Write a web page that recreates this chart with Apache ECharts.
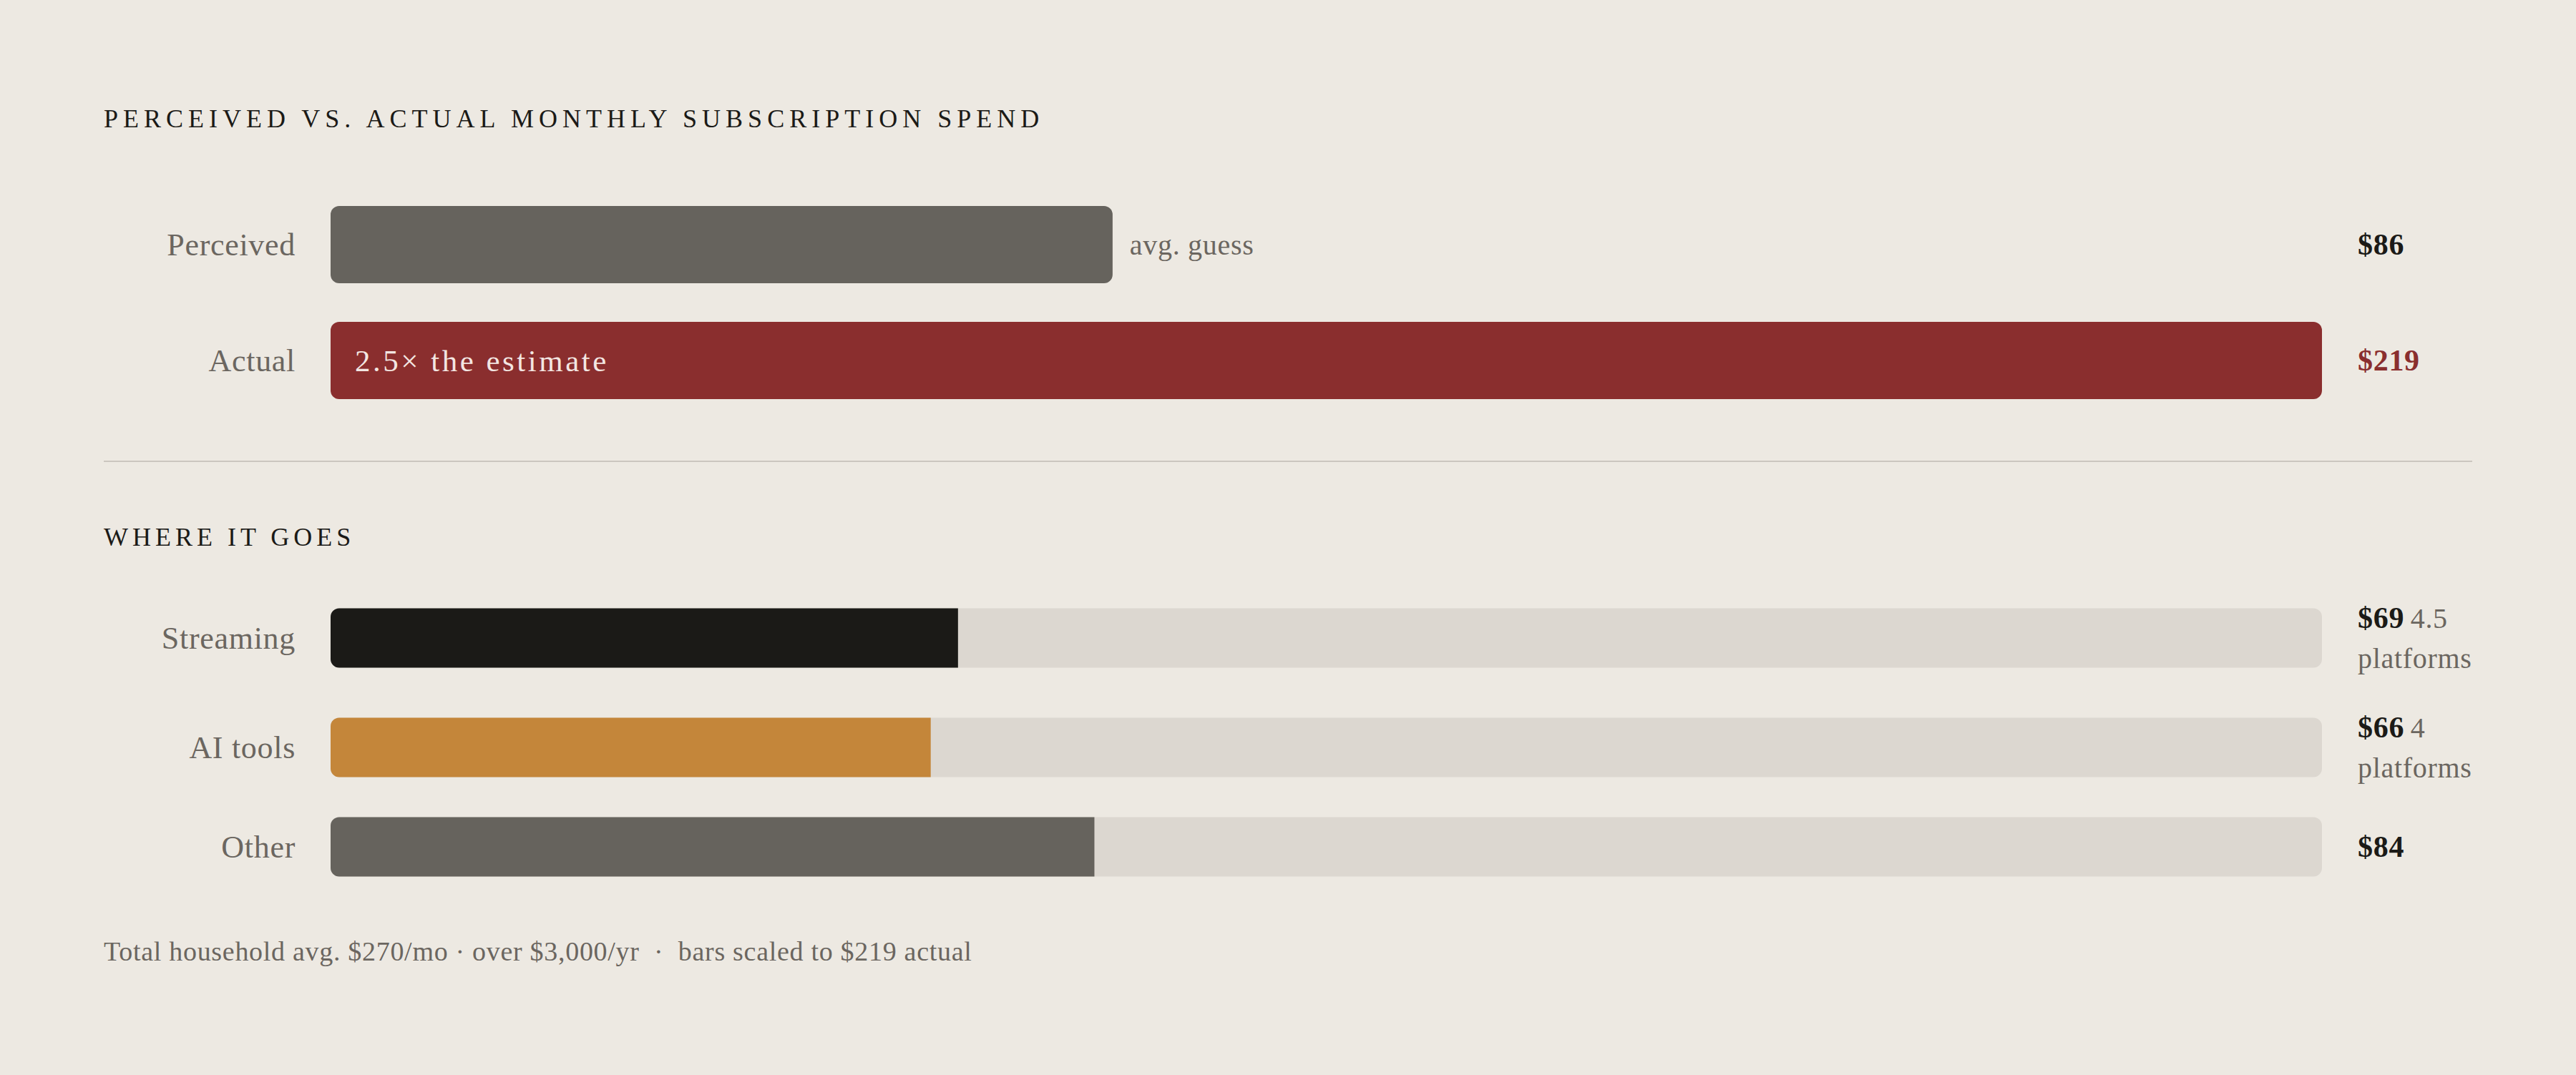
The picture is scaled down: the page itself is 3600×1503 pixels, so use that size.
<!DOCTYPE html>
<html>
<head>
<meta charset="utf-8">
<title>Perceived vs. actual monthly subscription spend</title>
<script src="https://cdn.jsdelivr.net/npm/echarts@6/dist/echarts.min.js"></script>
<style>
  html, body { margin: 0; padding: 0; background: #ede9e2; }
  #chart { width: 3600px; height: 1503px; }
  #chart text { letter-spacing: 0.7px; }
</style>
</head>
<body>
<div id="chart"></div>
<script>
// data
var scaleMax = 219;                       // bars scaled to the actual figure
var topCats = ['Perceived', 'Actual'];
var topValues = [86, 219];
var topNotes = ['avg. guess', '2.5\u00d7 the estimate'];
var breakCats = ['Streaming', 'AI tools', 'Other'];
var breakValues = [69, 66, 84];
var breakCounts = ['4.5', '4', ''];
var breakUnit = 'platforms';
var footNote = 'Total household avg. $270/mo \u00b7 over $3,000/yr  \u00b7  bars scaled to $219 actual';

// look
var FONT = "'Liberation Serif', 'DejaVu Serif', serif";
var INK = '#1b1a17', MUTED = '#6b6660', RED = '#8a2e2e';
var topColors = ['#66635d', RED];
var breakColors = ['#1b1a17', '#c4863a', '#66635d'];
var rowCenters = [892, 1045, 1184];
var PLOT_LEFT = 462, PLOT_RIGHT = 355;

var grids = [], xAxes = [], yAxes = [], series = [];

function leftAxis(gi, cats){
    return {
        gridIndex: gi, type: 'category', inverse: true, data: cats,
        axisLine: {show: false}, axisTick: {show: false}, splitLine: {show: false},
        axisLabel: {margin: 49, fontSize: 44, color: MUTED, fontFamily: FONT}
    };
}
function rightAxis(gi, cats, fmt){
    return {
        gridIndex: gi, type: 'category', inverse: true, position: 'right', data: cats,
        axisLine: {show: false}, axisTick: {show: false}, splitLine: {show: false},
        axisLabel: {
            margin: 50, formatter: fmt,
            rich: {
                v: {fontSize: 42, fontWeight: 'bold', color: INK, fontFamily: FONT, lineHeight: 56},
                r: {fontSize: 42, fontWeight: 'bold', color: RED, fontFamily: FONT, lineHeight: 56},
                n: {fontSize: 40, color: MUTED, fontFamily: FONT, lineHeight: 56}
            }
        }
    };
}
function valueAxis(gi){
    return {gridIndex: gi, type: 'value', min: 0, max: scaleMax, show: false};
}

// perceived vs actual
grids.push({left: PLOT_LEFT, right: PLOT_RIGHT, top: 261, height: 324});
xAxes.push(valueAxis(0));
yAxes.push(leftAxis(0, topCats));
yAxes.push(rightAxis(0, topCats, function(v, i){
    return '{' + (i == 1 ? 'r' : 'v') + '|$' + topValues[i] + '}';
}));
series.push({
    type: 'bar', xAxisIndex: 0, yAxisIndex: 0, barWidth: 108, silent: true,
    data: topValues.map(function(v, i){
        var lbl = i == 0
            ? {show: true, position: 'right', distance: 24, formatter: topNotes[i], fontSize: 40, color: MUTED, fontFamily: FONT}
            : {show: true, position: 'insideLeft', distance: 34, formatter: topNotes[i], fontSize: 43, color: '#f3e6e2', fontFamily: FONT};
        return {value: v, itemStyle: {color: topColors[i], borderRadius: 12}, label: lbl};
    })
});

// where it goes, one grid per row
breakCats.forEach(function(c, i){
    var gi = i + 1;
    grids.push({left: PLOT_LEFT, right: PLOT_RIGHT, top: rowCenters[i] - 50, height: 100});
    xAxes.push(valueAxis(gi));
    yAxes.push(leftAxis(gi, [c]));
    yAxes.push(rightAxis(gi, [c], function(){
        var s = '{v|$' + breakValues[i] + '}';
        if (breakCounts[i]) s += '{n| ' + breakCounts[i] + '}\n{n|' + breakUnit + '}';
        return s;
    }));
    series.push({
        type: 'bar', xAxisIndex: gi, yAxisIndex: yAxes.length - 2, barWidth: 83, silent: true,
        showBackground: true,
        backgroundStyle: {color: '#dcd7d0', borderRadius: 12},
        itemStyle: {color: breakColors[i], borderRadius: [12, 0, 0, 12]},
        data: [breakValues[i]]
    });
});

var chart = echarts.init(document.getElementById('chart'), null, {renderer: 'svg'});
chart.setOption({
    backgroundColor: '#ede9e2',
    animation: false,
    grid: grids,
    xAxis: xAxes,
    yAxis: yAxes,
    series: series,
    graphic: [
        {type: 'text', left: 145, top: 168 - 20, style: {text: 'PERCEIVED VS. ACTUAL MONTHLY SUBSCRIPTION SPEND', fontSize: 36, fill: INK, fontFamily: FONT}},
        {type: 'line', shape: {x1: 145, y1: 645, x2: 3455, y2: 645}, style: {stroke: '#cbc6bf', lineWidth: 2}},
        {type: 'text', left: 145, top: 753 - 20, style: {text: 'WHERE IT GOES', fontSize: 36, fill: INK, fontFamily: FONT}},
        {type: 'text', left: 145, top: 1333 - 22, style: {text: footNote, fontSize: 38, fill: MUTED, fontFamily: FONT}}
    ]
});

// spaced caps for the headings (svg text picks up css letter-spacing)
var spaced = {'PERCEIVED VS. ACTUAL MONTHLY SUBSCRIPTION SPEND': '7px', 'WHERE IT GOES': '6px'};
spaced[topNotes[1]] = '3.5px';
document.querySelectorAll('#chart text').forEach(function(t){
    if (spaced[t.textContent]) t.style.letterSpacing = spaced[t.textContent];
});
</script>
</body>
</html>
